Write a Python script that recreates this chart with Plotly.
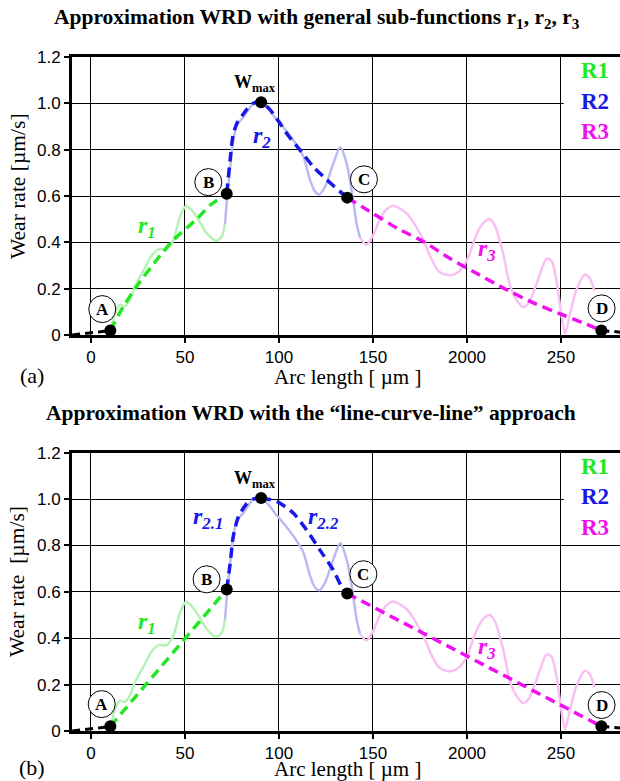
import plotly.graph_objects as go

# ---------------- data ----------------
# measured WRD (light curves), same in both panels
green_x = [11, 13, 15.4, 18, 20.5, 23.4, 28.7, 32, 35.8, 40.2, 43.8, 47.3, 50.5, 53.5, 57, 61.5, 66.5, 69.5, 71.3]
green_y = [0.03, 0.10, 0.13, 0.125, 0.15, 0.21, 0.29, 0.34, 0.37, 0.37, 0.41, 0.51, 0.557, 0.54, 0.50, 0.44, 0.407, 0.424, 0.48]

blue_x = [71.3, 72.5, 74, 75.7, 77.8, 81, 86.3, 89.5, 93.5, 98.8, 103, 109.4, 113, 116.5, 119.1, 121.5, 124.5, 128.9, 132.6, 136, 139.5, 141.3, 143.1]
blue_y = [0.48, 0.60, 0.72, 0.84, 0.91, 0.94, 1.0, 1.015, 0.985, 0.93, 0.89, 0.82, 0.77, 0.67, 0.62, 0.607, 0.64, 0.74, 0.81, 0.74, 0.58, 0.48, 0.42]

pink_x = [143.1, 146.6, 150, 153.7, 157, 160.8, 164.5, 168, 172, 176.8, 181, 185, 189, 192.7, 196.5, 200, 206, 209.5, 212.2, 215, 219.3, 223, 226.5, 230, 233, 236.5, 240, 242.4, 245, 247.5, 250, 252.2, 254.5, 258, 262.8, 265.3, 267.8]
pink_y = [0.42, 0.39, 0.43, 0.50, 0.54, 0.558, 0.545, 0.525, 0.48, 0.41, 0.33, 0.275, 0.26, 0.26, 0.28, 0.324, 0.45, 0.49, 0.50, 0.47, 0.35, 0.21, 0.15, 0.12, 0.14, 0.21, 0.29, 0.33, 0.32, 0.24, 0.10, 0.007, 0.08, 0.19, 0.26, 0.245, 0.19]

# baseline segments (black dashed)
base0_x = [-10, -5, 0, 5, 10.3]
base0_y = [0.0, 0.006, 0.01, 0.014, 0.02]
base1_x = [271.5, 282]
base1_y = [0.02, 0.012]

# key points A, B, Wmax, C, D
pt_x = [10.3, 72.2, 90.5, 136.3, 271.5]
pt_y = [0.02, 0.61, 1.005, 0.593, 0.02]

# panel (a): general sub-functions
a_r1_x = [10.3, 17, 24.3, 34.9, 43.8, 56.2, 63.3, 72.2]
a_r1_y = [0.02, 0.12, 0.21, 0.324, 0.41, 0.50, 0.56, 0.61]
a_r2_x = [72.2, 74, 75.7, 78, 80.2, 83, 86.3, 90.5, 95, 100, 105, 111, 118.3, 125.4, 132.4, 136.3]
a_r2_y = [0.61, 0.755, 0.87, 0.92, 0.945, 0.975, 1.0, 1.005, 0.975, 0.92, 0.86, 0.80, 0.726, 0.67, 0.62, 0.593]
a_r3_x = [136.3, 150, 163, 177, 191, 206, 220, 235, 250, 261, 271.5]
a_r3_y = [0.593, 0.525, 0.46, 0.403, 0.33, 0.262, 0.20, 0.14, 0.09, 0.055, 0.02]

# panel (b): line-curve-line
b_r1_x = [10.3, 72.2]
b_r1_y = [0.02, 0.61]
b_r21_x = [72.2, 74, 75.7, 78.4, 82.8, 86.3, 90.5]
b_r21_y = [0.61, 0.72, 0.84, 0.924, 0.98, 1.0, 1.005]
b_r22_x = [90.5, 98.8, 107.6, 114.7, 121.8, 128.9, 134.2, 136.3]
b_r22_y = [1.005, 0.99, 0.94, 0.867, 0.78, 0.694, 0.608, 0.593]
b_r3_x = [136.3, 271.5]
b_r3_y = [0.593, 0.02]

x_ticks = [0, 50, 100, 150, 200, 250]
x_ticktext = ["0", "50", "100", "150", "2000", "250"]
y_ticks = [0, 0.2, 0.4, 0.6, 0.8, 1.0, 1.2]
y_ticktext = ["0", "0.2", "0.4", "0.6", "0.8", "1.0", "1.2"]

# ---------------- styling ----------------
SERIF = "Liberation Serif"
SANS = "Liberation Sans"
LG, LB, LP = "#b6f2b6", "#babaf2", "#f8c0f3"
DG, DB, DP = "#22e822", "#1818e8", "#ee10ee"
DASH = "10px,6px"

fig = go.Figure()


def add_panel(xa, ya, r_curves):
    for xs, ys, c in [(green_x, green_y, LG), (blue_x, blue_y, LB), (pink_x, pink_y, LP)]:
        fig.add_trace(go.Scatter(x=xs, y=ys, mode="lines", xaxis=xa, yaxis=ya,
                                 line=dict(color=c, width=2.5, shape="spline", smoothing=0.8),
                                 showlegend=False, hoverinfo="skip"))
    for xs, ys in [(base0_x, base0_y), (base1_x, base1_y)]:
        fig.add_trace(go.Scatter(x=xs, y=ys, mode="lines", xaxis=xa, yaxis=ya,
                                 line=dict(color="black", width=3, dash="8px,5px"),
                                 showlegend=False, hoverinfo="skip"))
    for xs, ys, c in r_curves:
        fig.add_trace(go.Scatter(x=xs, y=ys, mode="lines", xaxis=xa, yaxis=ya,
                                 line=dict(color=c, width=3.5, dash=DASH, shape="spline", smoothing=0.6),
                                 showlegend=False, hoverinfo="skip"))
    fig.add_trace(go.Scatter(x=pt_x, y=pt_y, mode="markers", xaxis=xa, yaxis=ya,
                             marker=dict(color="black", size=12),
                             showlegend=False, hoverinfo="skip"))


add_panel("x", "y", [(a_r1_x, a_r1_y, DG), (a_r2_x, a_r2_y, DB), (a_r3_x, a_r3_y, DP)])
add_panel("x2", "y2", [(b_r1_x, b_r1_y, DG), (b_r21_x, b_r21_y, DB), (b_r22_x, b_r22_y, DB), (b_r3_x, b_r3_y, DP)])

axis_common = dict(showline=True, linewidth=3, linecolor="black", showgrid=True,
                   gridcolor="black", gridwidth=1, zeroline=False, ticks="outside",
                   ticklen=5, tickwidth=2, tickcolor="black",
                   tickfont=dict(family=SANS, size=17, color="black"))

xr = [-10.1, 281.4]
fig.update_layout(
    width=620, height=781,
    margin=dict(l=72, r=0, t=57, b=50),
    paper_bgcolor="white", plot_bgcolor="white",
    xaxis=dict(domain=[0, 1], range=xr, anchor="y", mirror=True,
               tickvals=x_ticks, ticktext=x_ticktext, **axis_common),
    yaxis=dict(domain=[0.5875, 1], range=[0, 1.2], anchor="x",
               tickvals=y_ticks, ticktext=y_ticktext, **axis_common),
    xaxis2=dict(domain=[0, 1], range=xr, anchor="y2", mirror=True,
                tickvals=x_ticks, ticktext=x_ticktext, **axis_common),
    yaxis2=dict(domain=[0, 0.4129], range=[0, 1.2], anchor="x2",
                tickvals=y_ticks, ticktext=y_ticktext, **axis_common),
)

shapes = []
annotations = []

circles = {
    "a": [("A", 6, 0.112), ("B", 62.4, 0.66), ("C", 145.2, 0.672), ("D", 271.6, 0.115)],
    "b": [("A", 5.7, 0.116), ("B", 61.5, 0.654), ("C", 144.9, 0.676), ("D", 271.6, 0.112)],
}
rlabels = {
    "a": [("r<sub>1</sub>", 29.6, 0.467, DG), ("r<sub>2</sub>", 90.8, 0.856, DB), ("r<sub>3</sub>", 210.5, 0.367, DP)],
    "b": [("r<sub>1</sub>", 29.6, 0.464, DG), ("r<sub>2.1</sub>", 62.4, 0.917, DB),
          ("r<sub>2.2</sub>", 123.6, 0.917, DB), ("r<sub>3</sub>", 210.5, 0.357, DP)],
}

C = dict(xanchor="center", yanchor="middle", showarrow=False)

for key, xa, ya in [("a", "x", "y"), ("b", "x2", "y2")]:
    # white legend box
    shapes.append(dict(type="rect", xref=xa, yref=ya, x0=251.5, x1=282, y0=0.85, y1=1.185,
                       fillcolor="white", line=dict(width=0), layer="above"))
    for lbl, cx, cy in circles[key]:
        shapes.append(dict(type="circle", xref=xa, yref=ya, xsizemode="pixel", ysizemode="pixel",
                           xanchor=cx, yanchor=cy, x0=-13.5, x1=13.5, y0=-13.5, y1=13.5,
                           fillcolor="white", line=dict(color="black", width=1), layer="above"))
        annotations.append(dict(x=cx, y=cy, xref=xa, yref=ya, text="<b>%s</b>" % lbl,
                                font=dict(family=SERIF, size=17, color="black"), **C))
    for txt, lx, ly, c in rlabels[key]:
        annotations.append(dict(x=lx, y=ly, xref=xa, yref=ya, text="<b><i>%s</i></b>" % txt,
                                font=dict(family=SERIF, size=24, color=c), **C))
    annotations.append(dict(x=87, y=1.085, xref=xa, yref=ya, text="<b>W<sub>max</sub></b>",
                            font=dict(family=SERIF, size=18, color="black"), **C))
    for txt, ly, c in [("R1", 1.14, DG), ("R2", 1.01, DB), ("R3", 0.877, DP)]:
        annotations.append(dict(x=268, y=ly, xref=xa, yref=ya, text="<b>%s</b>" % txt,
                                font=dict(family=SERIF, size=23, color=c), **C))

# titles, axis labels, panel tags (paper coordinates)
def py(px):
    return (731 - px) / 674.0

def px_(x):
    return (x - 72) / 548.0

annotations += [
    dict(x=px_(317), y=py(19), xref="paper", yref="paper",
         text="<b>Approximation WRD with general sub-functions r<sub>1</sub>, r<sub>2</sub>, r<sub>3</sub></b>",
         font=dict(family=SERIF, size=21.5, color="black"), **C),
    dict(x=px_(311), y=py(413), xref="paper", yref="paper",
         text="<b>Approximation WRD with the \u201cline-curve-line\u201d approach</b>",
         font=dict(family=SERIF, size=21.5, color="black"), **C),
    dict(x=px_(347), y=py(377), xref="paper", yref="paper",
         text="Arc length [ \u00b5m ]", font=dict(family=SERIF, size=21, color="black"), **C),
    dict(x=px_(347), y=py(769), xref="paper", yref="paper",
         text="Arc length [ \u00b5m ]", font=dict(family=SERIF, size=21, color="black"), **C),
    dict(x=px_(32), y=py(375), xref="paper", yref="paper",
         text="(a)", font=dict(family=SERIF, size=22, color="black"), **C),
    dict(x=px_(32), y=py(767), xref="paper", yref="paper",
         text="(b)", font=dict(family=SERIF, size=22, color="black"), **C),
    dict(x=px_(18), y=py(186), xref="paper", yref="paper", textangle=-90,
         text="Wear rate [\u00b5m/s]", font=dict(family=SERIF, size=21.5, color="black"), **C),
    dict(x=px_(17), y=py(582), xref="paper", yref="paper", textangle=-90,
         text="Wear rate  [\u00b5m/s]", font=dict(family=SERIF, size=21.5, color="black"), **C),
]

fig.update_layout(shapes=shapes, annotations=annotations)
fig.write_html("out.html")
